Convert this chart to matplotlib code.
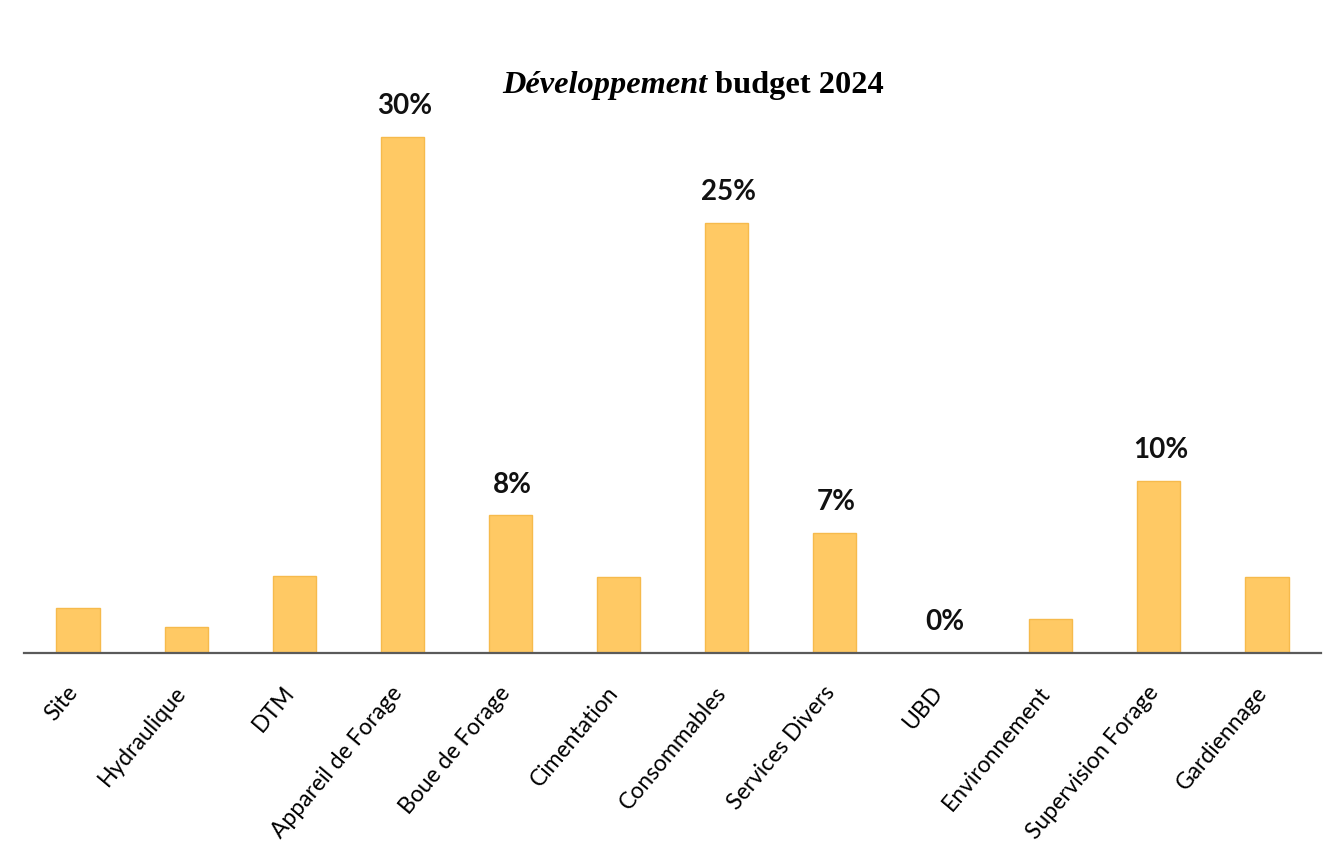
import matplotlib
matplotlib.use("Agg")
import matplotlib.pyplot as plt
from matplotlib.transforms import ScaledTranslation

# Budget share per cost item (%)
categories = ["Site", "Hydraulique", "DTM", "Appareil de Forage", "Boue de Forage",
              "Cimentation", "Consommables", "Services Divers", "UBD",
              "Environnement", "Supervision Forage", "Gardiennage"]
shares = [2.6, 1.5, 4.5, 30, 8, 4.4, 25, 7, 0, 2.0, 10, 4.4]
# Items whose share is printed above the bar
labelled = ["Appareil de Forage", "Boue de Forage", "Consommables",
            "Services Divers", "UBD", "Supervision Forage"]

W, H = 1333, 855
fig = plt.figure(figsize=(W / 100, H / 100), dpi=100)
fig.patch.set_facecolor("white")

ax = fig.add_axes([24 / W, (H - 653) / H, (1321 - 24) / W, 563 / H])
x = range(len(categories))
bars = ax.bar(x, shares, width=0.4, color="#FFC964", edgecolor="#F6BA4C",
              linewidth=1.0, zorder=1)

ax.set_xlim(-0.5, len(categories) - 0.5)
ax.set_ylim(0, 32.75)

for spine in ("top", "right", "left"):
    ax.spines[spine].set_visible(False)
ax.spines["bottom"].set_color("#5a5a5a")
ax.spines["bottom"].set_linewidth(1.6)
ax.set_yticks([])
ax.set_xticks(list(x))
ax.set_xticklabels(categories, rotation=50, ha="right", fontfamily="Lato",
                   fontsize=16.5, color="#000000")
ax.tick_params(axis="x", length=0, pad=21)
shift = ScaledTranslation(4 / 100, 0, fig.dpi_scale_trans)
for lbl in ax.get_xticklabels():
    lbl.set_transform(lbl.get_transform() + shift)

for rect, cat, val in zip(bars, categories, shares):
    if cat in labelled:
        ax.annotate(f"{val:.0f}%", xy=(rect.get_x() + rect.get_width() / 2, val),
                    xytext=(1.5, 16.5), textcoords="offset points",
                    ha="center", va="baseline", fontfamily="Lato",
                    fontweight="bold", fontsize=20, color="#111111")

# Title: italic word followed by upright text, centred as a whole
t1 = fig.text(0, 1 - 93 / H, "Développement", fontfamily="Liberation Serif",
              fontstyle="italic", fontweight="bold", fontsize=23.3, va="baseline")
t2 = fig.text(0, 1 - 93 / H, " budget 2024", fontfamily="Liberation Serif",
              fontweight="bold", fontsize=23.3, va="baseline")
fig.canvas.draw()
r = fig.canvas.get_renderer()
w1 = t1.get_window_extent(r).width
w2 = t2.get_window_extent(r).width
x0 = 693 - (w1 + w2) / 2
t1.set_x(x0 / W)
t2.set_x((x0 + w1) / W)

fig.savefig("out.png", dpi=100, facecolor="white")
